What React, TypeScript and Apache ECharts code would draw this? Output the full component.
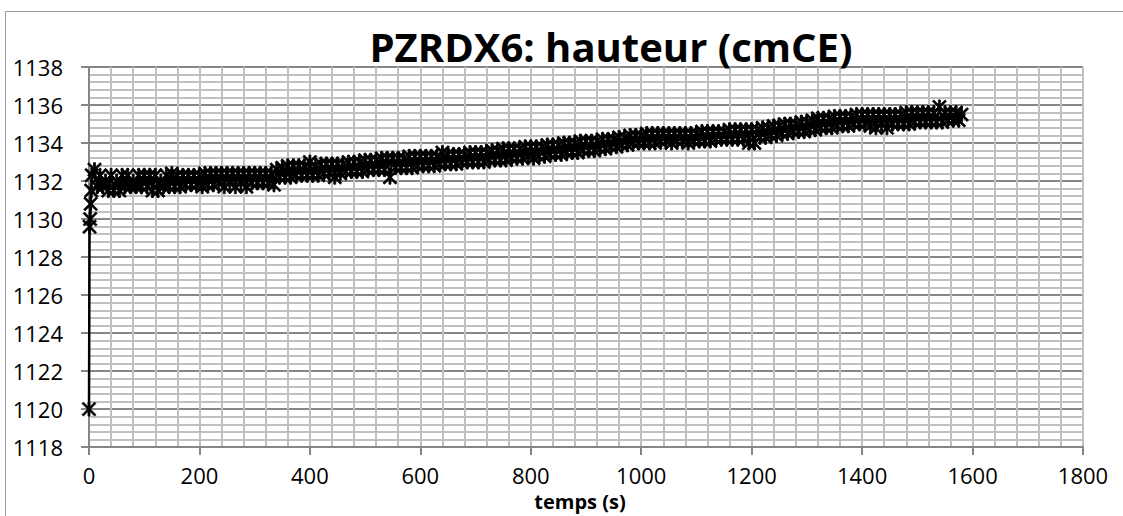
import React, { useEffect, useRef } from "react";
import * as echarts from "echarts";

const titleText = "PZRDX6: hauteur (cmCE)";
const xAxisTitle = "temps (s)";

// start-up points (time s, height cmCE)
const startTimes = [0, 1, 2, 3, 4];
const startValues = [1120, 1129.6, 1130.0, 1130.8, 1131.5];

// sampled every 5 s; each segment covers 100 s starting at segStarts[i]
const segStarts = [5, 105, 205, 305, 405, 505, 605, 705, 805, 905, 1005, 1105, 1205, 1305, 1405, 1505];
const segA = [1132.3, 1132.6, 1131.7, 1132.3, 1131.7, 1132.0, 1131.5, 1132.3, 1131.5, 1132.0, 1131.5, 1132.3, 1131.7, 1132.3, 1131.7, 1132.0, 1131.7, 1132.3, 1131.7, 1132.3];
const segB = [1131.7, 1132.3, 1131.5, 1132.3, 1131.5, 1132.0, 1131.7, 1132.3, 1131.7, 1132.4, 1131.7, 1132.3, 1131.7, 1132.3, 1131.8, 1132.3, 1131.8, 1132.3, 1131.8, 1132.3];
const segC = [1131.7, 1132.4, 1131.8, 1132.4, 1131.8, 1132.4, 1131.9, 1132.4, 1131.7, 1132.4, 1131.9, 1132.4, 1131.7, 1132.4, 1131.9, 1132.4, 1131.7, 1132.4, 1131.9, 1132.4];
const segD = [1131.9, 1132.4, 1131.9, 1132.4, 1131.9, 1132.4, 1131.8, 1132.6, 1132.2, 1132.7, 1132.2, 1132.8, 1132.2, 1132.8, 1132.3, 1132.8, 1132.3, 1132.8, 1132.3, 1133.0];
const segE = [1132.3, 1132.8, 1132.3, 1132.9, 1132.4, 1132.9, 1132.4, 1132.9, 1132.2, 1132.9, 1132.4, 1132.9, 1132.5, 1133.0, 1132.5, 1133.0, 1132.5, 1133.0, 1132.5, 1133.1];
const segF = [1132.6, 1133.1, 1132.6, 1133.1, 1132.6, 1133.2, 1132.6, 1133.2, 1132.2, 1133.2, 1132.7, 1133.2, 1132.7, 1133.2, 1132.7, 1133.3, 1132.7, 1133.3, 1132.8, 1133.3];
const segG = [1132.8, 1133.3, 1132.8, 1133.3, 1132.8, 1133.3, 1132.9, 1133.5, 1132.9, 1133.4, 1132.9, 1133.4, 1132.9, 1133.4, 1133.0, 1133.4, 1133.0, 1133.5, 1133.0, 1133.5];
const segH = [1133.0, 1133.5, 1133.0, 1133.5, 1133.1, 1133.6, 1133.1, 1133.6, 1133.1, 1133.7, 1133.1, 1133.7, 1133.2, 1133.7, 1133.2, 1133.7, 1133.2, 1133.8, 1133.3, 1133.8];
const segI = [1133.2, 1133.8, 1133.3, 1133.8, 1133.3, 1133.9, 1133.4, 1133.9, 1133.4, 1133.9, 1133.4, 1134.0, 1133.5, 1134.0, 1133.5, 1134.0, 1133.5, 1134.1, 1133.6, 1134.1];
const segJ = [1133.6, 1134.1, 1133.6, 1134.1, 1133.7, 1134.2, 1133.7, 1134.2, 1133.8, 1134.2, 1133.8, 1134.3, 1133.9, 1134.3, 1133.9, 1134.4, 1134.0, 1134.4, 1134.0, 1134.4];
const segK = [1134.0, 1134.5, 1134.0, 1134.5, 1134.0, 1134.5, 1134.1, 1134.5, 1134.1, 1134.5, 1134.0, 1134.5, 1134.1, 1134.5, 1134.1, 1134.5, 1134.0, 1134.5, 1134.1, 1134.5];
const segL = [1134.1, 1134.6, 1134.1, 1134.6, 1134.1, 1134.6, 1134.2, 1134.6, 1134.2, 1134.6, 1134.2, 1134.7, 1134.2, 1134.7, 1134.2, 1134.7, 1134.2, 1134.7, 1134.0, 1134.7];
const segM = [1134.0, 1134.7, 1134.3, 1134.8, 1134.3, 1134.8, 1134.4, 1134.9, 1134.4, 1134.9, 1134.5, 1135.0, 1134.5, 1135.0, 1134.6, 1135.0, 1134.6, 1135.1, 1134.6, 1135.1];
const segN = [1134.7, 1135.2, 1134.7, 1135.3, 1134.8, 1135.3, 1134.8, 1135.3, 1134.8, 1135.4, 1134.9, 1135.4, 1134.9, 1135.4, 1134.9, 1135.4, 1135.0, 1135.5, 1135.0, 1135.5];
const segO = [1135.0, 1135.5, 1134.9, 1135.5, 1134.8, 1135.5, 1135.0, 1135.5, 1134.8, 1135.5, 1135.0, 1135.5, 1135.0, 1135.5, 1135.0, 1135.6, 1135.0, 1135.6, 1135.1, 1135.6];
const segP = [1135.1, 1135.6, 1135.1, 1135.6, 1135.1, 1135.6, 1135.1, 1135.9, 1135.1, 1135.6, 1135.2, 1135.6, 1135.2, 1135.6, 1135.2, 1135.5];
const segments = [segA, segB, segC, segD, segE, segF, segG, segH, segI, segJ, segK, segL, segM, segN, segO, segP];
const sampleStep = 5;

const yMin = 1118;
const yMax = 1138;
const yStep = 2;
const xMin = 0;
const xMax = 1800;
const xStep = 200;

const asterisk =
  "path://M8.6 0 L11.4 0 L11.4 20 L8.6 20 Z M0 2 L2 0 L20 18 L18 20 Z M18 0 L20 2 L2 20 L0 18 Z";

export default function App() {
  const ref = useRef<HTMLDivElement>(null);
  useEffect(() => {
    if (!ref.current) return;
    const chart = echarts.init(ref.current, null, { renderer: "svg" });
    const data: [number, number][] = [];
    startTimes.forEach((t, i) => data.push([t, startValues[i]]));
    segments.forEach((seg, s) => {
      seg.forEach((v, i) => data.push([segStarts[s] + i * sampleStep, v]));
    });
    const font = "'Open Sans', 'Noto Sans', sans-serif";
    chart.setOption({
      animation: false,
      backgroundColor: "#ffffff",
      title: {
        text: titleText,
        left: 606,
        top: 21,
        textAlign: "center",
        textStyle: { fontFamily: font, fontWeight: "bold", fontSize: 40, color: "#000" },
      },
      graphic: [
        {
          type: "rect",
          shape: { x: 5.5, y: 11.5, width: 1130, height: 520 },
          style: { fill: "none", stroke: "#9a9a9a", lineWidth: 1 },
          silent: true,
        },
      ],
      grid: { left: 89, right: 40, top: 67, bottom: 67, containLabel: false },
      xAxis: {
        type: "value",
        min: xMin,
        max: xMax,
        interval: xStep,
        name: xAxisTitle,
        nameLocation: "middle",
        nameGap: 43,
        nameTextStyle: { fontFamily: font, fontWeight: "bold", fontSize: 20, color: "#000", padding: [0, 12, 0, 0] },
        axisLine: { show: true, lineStyle: { color: "#868686", width: 2 } },
        axisTick: { show: true, length: 8, lineStyle: { color: "#868686", width: 2 } },
        axisLabel: { fontFamily: font, fontSize: 22, color: "#000", margin: 17, formatter: (v: number) => String(v) },
        splitLine: { show: true, lineStyle: { color: "#c0c0c0", width: 2 } },
        minorTick: { show: false, splitNumber: 5 },
        minorSplitLine: { show: true, lineStyle: { color: "#c0c0c0", width: 2 } },
      },
      yAxis: {
        type: "value",
        min: yMin,
        max: yMax,
        interval: yStep,
        axisLine: { show: true, lineStyle: { color: "#868686", width: 2 } },
        axisTick: { show: true, length: 8, lineStyle: { color: "#868686", width: 2 } },
        axisLabel: { fontFamily: font, fontSize: 22, color: "#000", margin: 26, formatter: (v: number) => String(v) },
        splitLine: { show: true, lineStyle: { color: "#868686", width: 2 } },
        minorTick: { show: false, splitNumber: 5 },
        minorSplitLine: { show: true, lineStyle: { color: "#c0c0c0", width: 2 } },
      },
      series: [
        {
          type: "line",
          data,
          symbol: asterisk,
          symbolSize: 14,
          showSymbol: true,
          lineStyle: { color: "#000", width: 2.5 },
          itemStyle: { color: "#000", borderColor: "#000", borderWidth: 0.8 },
          z: 5,
        },
      ],
    });
    return () => chart.dispose();
  }, []);
  return (
    <div
      ref={ref}
      style={{ position: "absolute", left: 0, top: 0, width: 1123, height: 516 }}
    />
  );
}
